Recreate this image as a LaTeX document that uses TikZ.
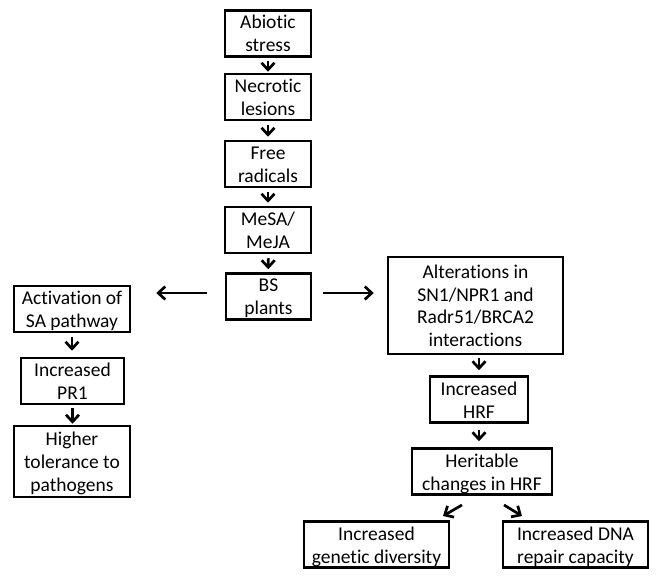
\documentclass[tikz,border=0pt]{standalone}
\usepackage{fontspec}
\setmainfont{Carlito}[Ligatures=NoCommon]
\usetikzlibrary{arrows.meta}
\newcommand\ls{\rule[-4.5pt]{0pt}{23pt}}
\begin{document}
\begin{tikzpicture}[x=1pt,y=-1pt,
  box/.style={draw, line width=2.5pt, align=center, inner sep=0pt, font=\fontsize{19.5}{23}\selectfont},
  arr/.style={line width=2.7pt, -{Straight Barb[length=7pt,width=13pt]}}]
\useasboundingbox (0,0) rectangle (662,580);
\node[box, minimum width=86, minimum height=41] (abiotic) at (268,33.5) {\ls Abiotic\\\ls stress};
\node[box, minimum width=86, minimum height=42] (necrotic) at (268,97) {\ls Necrotic\\\ls lesions};
\node[box, minimum width=86, minimum height=42] (free) at (268,164) {\ls Free\\\ls radicals};
\node[box, minimum width=86, minimum height=44] (mesa) at (268,230) {\ls MeSA/\\\ls MeJA};
\node[box, minimum width=85, minimum height=43] (bs) at (268.5,296.5) {\ls BS\\\ls plants};
\node[box, minimum width=116, minimum height=44] (act) at (72,309) {\ls Activation of\\\ls SA pathway};
\node[box, minimum width=103, minimum height=44] (pr1) at (72.5,381) {\ls Increased\\\ls PR1};
\node[box, minimum width=116, minimum height=71] (higher) at (72,461.5) {\ls Higher\\\ls tolerance to\\\ls pathogens};
\node[box, minimum width=175, minimum height=97] (alt) at (475.5,305.5) {\ls Alterations in\\\ls SN1/NPR1 and\\\ls Radr51/BRCA2\\\ls interactions};
\node[box, minimum width=98, minimum height=43] (hrf) at (479,399.5) {\ls Increased\\\ls HRF};
\node[box, minimum width=140, minimum height=43] (herit) at (482,471.5) {\ls Heritable\\\ls changes in HRF};
\node[box, minimum width=145, minimum height=43] (gen) at (376.5,544.5) {\ls Increased\\\ls genetic diversity};
\node[box, minimum width=145, minimum height=43] (dna) at (575.5,544.5) {\ls Increased DNA\\\ls repair capacity};
\draw[arr, shorten <=3pt, shorten >=1pt] (abiotic) -- (necrotic);
\draw[arr, shorten <=4pt, shorten >=3pt] (necrotic) -- (free);
\draw[arr, shorten <=4pt, shorten >=3pt] (free) -- (mesa);
\draw[arr, shorten <=4pt, shorten >=3pt] (mesa) -- (bs);
\draw[arr, shorten <=18pt, shorten >=25pt] (bs.west |- 0,293) -- (act.east |- 0,293);
\draw[arr, shorten <=11pt, shorten >=13pt] (bs.east |- 0,293) -- (alt.west |- 0,293);
\draw[arr, shorten <=4pt, shorten >=6pt] (act) -- (act |- pr1.north);
\draw[arr, shorten <=3pt, shorten >=1pt] (pr1) -- (pr1 |- higher.north);
\draw[arr, shorten <=3pt, shorten >=5pt] (alt.south -| hrf) -- (hrf);
\draw[arr, shorten <=6pt, shorten >=6pt] (hrf) -- (hrf.south |- herit.north);
\coordinate (dl1) at (462,505);
\coordinate (dl2) at (443,516);
\coordinate (dr1) at (504,505);
\coordinate (dr2) at (522,516);
\draw[arr] (dl1) -- (dl2);
\draw[arr] (dr1) -- (dr2);
\end{tikzpicture}
\end{document}
